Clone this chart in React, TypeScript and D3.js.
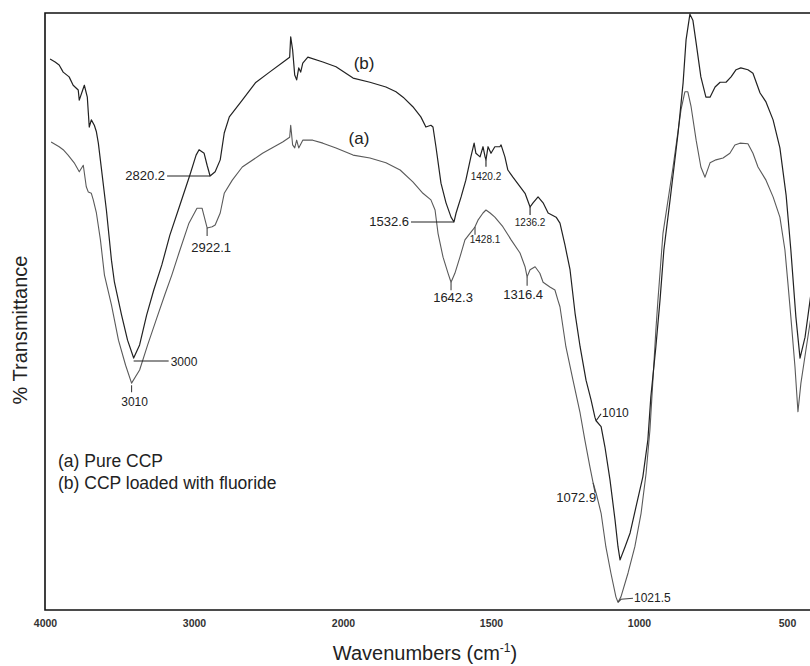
import { useEffect, useRef } from 'react';
import * as d3 from 'd3';

// series (b) CCP loaded with fluoride — upper trace
const waveB = [3966, 3932, 3905, 3878, 3838, 3811, 3777, 3770, 3743, 3736, 3716, 3709, 3703, 3689, 3669, 3655, 3642, 3588, 3554, 3534, 3486, 3446, 3405, 3365, 3318, 3270, 3216, 3162, 3095, 3027, 2986, 2966, 2932, 2912, 2892, 2858, 2824, 2797, 2763, 2676, 2588, 2493, 2385, 2358, 2351, 2338, 2324, 2311, 2297, 2284, 2270, 2236, 2135, 2047, 1966, 1909, 1855, 1821, 1797, 1764, 1737, 1720, 1703, 1696, 1686, 1669, 1652, 1635, 1625, 1618, 1601, 1585, 1568, 1557, 1551, 1537, 1527, 1520, 1517, 1510, 1500, 1487, 1470, 1466, 1453, 1443, 1426, 1402, 1385, 1368, 1358, 1341, 1324, 1307, 1280, 1267, 1250, 1233, 1216, 1199, 1179, 1162, 1149, 1145, 1128, 1115, 1098, 1081, 1071, 1064, 1047, 1030, 1010, 987, 970, 960, 943, 929, 916, 895, 868, 851, 841, 828, 818, 807, 791, 774, 760, 743, 726, 706, 689, 672, 656, 632, 615, 591, 571, 547, 524, 503, 487, 470, 456, 439, 422, 400];
const transB = [92.3, 91.8, 91.3, 90.1, 89.3, 87.9, 87.1, 85.4, 87.4, 87.9, 85.9, 83.2, 80.9, 82.1, 81.2, 80.1, 78.2, 67.0, 58.6, 54.9, 49.4, 45.2, 42.2, 44.4, 49.4, 53.6, 57.8, 62.8, 67.8, 72.9, 76.2, 77.1, 76.5, 74.5, 72.7, 73.4, 75.4, 79.9, 82.6, 85.4, 88.3, 90.1, 92.1, 92.6, 96.0, 93.8, 89.6, 88.8, 90.8, 90.1, 91.6, 92.6, 91.8, 91.0, 89.1, 88.4, 87.6, 86.8, 85.9, 84.3, 82.6, 80.9, 81.2, 80.9, 77.6, 71.5, 68.2, 65.8, 65.0, 66.5, 69.2, 72.0, 75.9, 78.2, 76.5, 75.9, 77.6, 75.9, 75.4, 77.6, 76.5, 77.6, 77.6, 77.9, 75.9, 73.7, 72.5, 70.9, 69.8, 67.5, 68.2, 69.2, 68.2, 66.5, 65.8, 64.8, 61.1, 57.0, 49.7, 44.1, 38.5, 35.2, 32.3, 31.7, 30.7, 27.3, 21.8, 15.1, 10.6, 8.4, 10.6, 12.9, 17.3, 22.3, 28.5, 35.7, 44.1, 51.9, 60.3, 68.7, 79.9, 88.3, 95.5, 99.8, 98.8, 95.0, 89.3, 85.9, 85.9, 87.6, 88.4, 88.4, 89.3, 90.5, 90.8, 90.5, 89.9, 86.6, 85.1, 82.1, 77.4, 69.5, 60.3, 49.1, 42.2, 45.7, 51.9, 60.0];

// series (a) pure CCP — lower trace
const waveA = [3959, 3905, 3878, 3845, 3804, 3770, 3743, 3723, 3709, 3689, 3676, 3655, 3628, 3601, 3554, 3507, 3459, 3419, 3365, 3311, 3250, 3196, 3149, 3101, 3034, 2980, 2946, 2912, 2878, 2858, 2824, 2797, 2743, 2676, 2540, 2405, 2358, 2351, 2338, 2324, 2311, 2297, 2270, 2203, 2135, 2047, 1966, 1909, 1855, 1807, 1764, 1730, 1703, 1689, 1679, 1662, 1645, 1635, 1622, 1605, 1588, 1571, 1561, 1554, 1544, 1527, 1517, 1503, 1487, 1460, 1432, 1402, 1385, 1378, 1368, 1351, 1335, 1324, 1301, 1284, 1274, 1267, 1247, 1223, 1199, 1183, 1166, 1155, 1145, 1128, 1112, 1095, 1078, 1071, 1061, 1037, 1014, 993, 976, 963, 953, 943, 936, 919, 885, 858, 845, 835, 824, 807, 791, 777, 760, 740, 716, 693, 676, 659, 632, 615, 598, 571, 547, 524, 507, 497, 487, 473, 463, 453, 436, 419, 400];
const transA = [78.4, 77.6, 77.1, 76.2, 74.9, 73.4, 74.5, 70.9, 70.0, 69.8, 68.7, 66.5, 62.0, 56.1, 51.1, 45.2, 41.0, 38.0, 40.2, 44.4, 48.9, 52.8, 56.1, 59.8, 64.8, 67.3, 67.3, 64.0, 64.2, 64.5, 66.5, 69.8, 72.0, 74.2, 76.5, 78.4, 79.2, 81.2, 77.9, 77.4, 78.7, 77.4, 78.7, 78.7, 78.2, 77.4, 76.2, 75.7, 74.9, 73.7, 71.7, 69.8, 68.7, 67.0, 63.1, 59.1, 56.4, 54.9, 56.4, 59.1, 62.0, 63.1, 63.7, 64.2, 65.3, 66.5, 67.0, 66.5, 65.8, 64.2, 62.0, 59.8, 57.5, 55.8, 57.0, 57.5, 56.4, 54.9, 54.1, 53.6, 51.9, 50.8, 44.1, 38.5, 33.0, 28.5, 24.0, 21.3, 19.6, 16.2, 10.6, 6.2, 2.2, 1.3, 2.2, 6.2, 10.6, 16.2, 22.9, 30.2, 38.5, 46.9, 51.9, 63.1, 74.2, 83.8, 86.8, 86.8, 84.3, 78.7, 74.2, 72.5, 74.9, 75.4, 75.7, 76.5, 77.9, 78.2, 78.1, 76.5, 74.2, 72.0, 69.2, 65.8, 60.3, 54.8, 49.1, 40.7, 33.2, 38.0, 43.6, 49.1, 54.4];

const xTicks = [4000, 3000, 2000, 1500, 1000, 500];

// peak labels: printed text, which trace, point on the trace
const peakText = ['2820.2', '2922.1', '3000', '3010', '1532.6', '1420.2', '1236.2', '1428.1', '1642.3', '1316.4', '1072.9', '1010', '1021.5'];
const peakSeries = ['b', 'a', 'b', 'a', 'b', 'b', 'b', 'a', 'a', 'a', 'a', 'b', 'a'];
const peakWave = [2892, 2912, 3405, 3419, 1625, 1517, 1368, 1554, 1635, 1378, 1155, 1145, 1071];
const peakTrans = [72.7, 64.0, 42.2, 38.0, 65.0, 75.4, 67.5, 64.2, 54.9, 55.8, 21.3, 31.7, 1.3];

const seriesTags = ['(b)', '(a)'];
const tagWave = [1929, 1946];
const tagTrans = [91.5, 78.9];

const legendLines = ['(a) Pure CCP', '(b) CCP loaded with fluoride'];

const FONT = '"Liberation Sans", Arial, Helvetica, sans-serif';

const App = () => {
  const ref = useRef<SVGSVGElement>(null);

  useEffect(() => {
    const svg = d3.select(ref.current);
    svg.selectAll('*').remove();

    const width = 810; const height = 666;
    const left = 45; const top = 13; const bottom = 610;
    const step = 148; // px between labelled ticks

    // FTIR style: scale doubles below 2000 cm-1
    const x = d3.scaleLinear()
      .domain([4000, 2000, 400])
      .range([left, left + 2 * step + 2, left + 2 * step + 2 + (1600 / 500) * step]);
    const y = d3.scaleLinear().domain([0, 100]).range([bottom, top]);

    svg.attr('width', width).attr('height', height);

    const line = d3.line<[number, number]>()
      .x(d => x(d[0]))
      .y(d => y(d[1]));

    const dataB: [number, number][] = waveB.map((w, i) => [w, transB[i]]);
    const dataA: [number, number][] = waveA.map((w, i) => [w, transA[i]]);

    const clip = svg.append('defs').append('clipPath').attr('id', 'plot-clip');
    clip.append('rect').attr('x', left).attr('y', top).attr('width', width - left).attr('height', bottom - top);

    const plot = svg.append('g').attr('clip-path', 'url(#plot-clip)');

    plot.append('path')
      .datum(dataA)
      .attr('d', line)
      .attr('fill', 'none')
      .attr('stroke', '#5a5a5a')
      .attr('stroke-width', 1.1)
      .attr('stroke-linejoin', 'round');

    plot.append('path')
      .datum(dataB)
      .attr('d', line)
      .attr('fill', 'none')
      .attr('stroke', '#222')
      .attr('stroke-width', 1.2)
      .attr('stroke-linejoin', 'round');

    // frame (right side runs off the page)
    svg.append('path')
      .attr('d', `M${width},${top}H${left}V${bottom}H${width}`)
      .attr('fill', 'none')
      .attr('stroke', '#111')
      .attr('stroke-width', 1.6);

    const axis = svg.append('g')
      .attr('transform', `translate(0,${bottom})`)
      .call(d3.axisBottom(x).tickValues(xTicks).tickSize(0).tickPadding(10).tickFormat(d3.format('d')));
    axis.select('.domain').remove();
    axis.selectAll('text')
      .attr('font-family', FONT)
      .attr('font-size', 10.5)
      .attr('font-weight', 'bold')
      .attr('fill', '#333');

    // peak annotations, offsets relative to the marked point
    const layout: Record<string, { path: number[][]; tx: number; ty: number; anchor: string; size: number }> = {
      '2820.2': { path: [[0, 0], [-43, 0]], tx: -45, ty: 0, anchor: 'end', size: 13 },
      '2922.1': { path: [[0, 0], [0, 8]], tx: 4, ty: 20, anchor: 'middle', size: 13 },
      '3000': { path: [[0, 3], [35, 3]], tx: 37, ty: 4, anchor: 'start', size: 12 },
      '3010': { path: [[0, 2], [0, 9]], tx: 3, ty: 19, anchor: 'middle', size: 12 },
      '1532.6': { path: [[0, 0], [-43, 0]], tx: -45, ty: 0, anchor: 'end', size: 13 },
      '1420.2': { path: [[0, 0], [0, 7]], tx: 0, ty: 17, anchor: 'middle', size: 10 },
      '1236.2': { path: [[0, 0], [0, 8]], tx: 0, ty: 15, anchor: 'middle', size: 10 },
      '1428.1': { path: [[0, 0], [0, 8]], tx: 10, ty: 13, anchor: 'middle', size: 10 },
      '1642.3': { path: [[0, 0], [0, 8]], tx: 2, ty: 15, anchor: 'middle', size: 13 },
      '1316.4': { path: [[0, 0], [0, 9]], tx: -4, ty: 18, anchor: 'middle', size: 13 },
      '1072.9': { path: [[0, 0], [2, 10]], tx: 3, ty: 15, anchor: 'end', size: 13 },
      '1010': { path: [[0, 0], [5, -7]], tx: 6, ty: -8, anchor: 'start', size: 12 },
      '1021.5': { path: [[0, 0], [3, -3], [15, -4]], tx: 16, ty: -4, anchor: 'start', size: 12 },
    };

    const ann = svg.append('g');
    peakText.forEach((t, i) => {
      const px = x(peakWave[i]);
      const py = y(peakTrans[i]);
      const l = layout[t];
      ann.append('path')
        .attr('d', 'M' + l.path.map(p => `${px + p[0]},${py + p[1]}`).join('L'))
        .attr('fill', 'none')
        .attr('stroke', peakSeries[i] === 'b' ? '#222' : '#444')
        .attr('stroke-width', 1.1);
      ann.append('text')
        .attr('x', px + l.tx)
        .attr('y', py + l.ty)
        .attr('text-anchor', l.anchor)
        .attr('dominant-baseline', 'central')
        .attr('font-family', FONT)
        .attr('font-size', l.size)
        .attr('fill', '#222')
        .text(t);
    });

    seriesTags.forEach((t, i) => {
      svg.append('text')
        .attr('x', x(tagWave[i]))
        .attr('y', y(tagTrans[i]))
        .attr('text-anchor', 'middle')
        .attr('dominant-baseline', 'central')
        .attr('font-family', FONT)
        .attr('font-size', 17)
        .attr('fill', '#222')
        .text(t);
    });

    legendLines.forEach((t, i) => {
      svg.append('text')
        .attr('x', 58)
        .attr('y', 467 + i * 22)
        .attr('font-family', FONT)
        .attr('font-size', 17.5)
        .attr('fill', '#222')
        .text(t);
    });

    const xt = svg.append('text')
      .attr('x', 425)
      .attr('y', 660)
      .attr('text-anchor', 'middle')
      .attr('font-family', FONT)
      .attr('font-size', 20)
      .attr('fill', '#222');
    xt.append('tspan').text('Wavenumbers (cm');
    xt.append('tspan').attr('font-size', 12).attr('dy', -8).text('-1');
    xt.append('tspan').attr('dy', 8).text(')');

    svg.append('text')
      .attr('transform', `translate(27,330) rotate(-90)`)
      .attr('text-anchor', 'middle')
      .attr('font-family', FONT)
      .attr('font-size', 20)
      .attr('fill', '#222')
      .text('% Transmittance');
  }, []);

  return (
    <div style={{ position: 'absolute', left: 0, top: 0, background: '#fff' }}>
      <svg ref={ref} width={810} height={666} style={{ display: 'block' }} />
    </div>
  );
};

export default App;
